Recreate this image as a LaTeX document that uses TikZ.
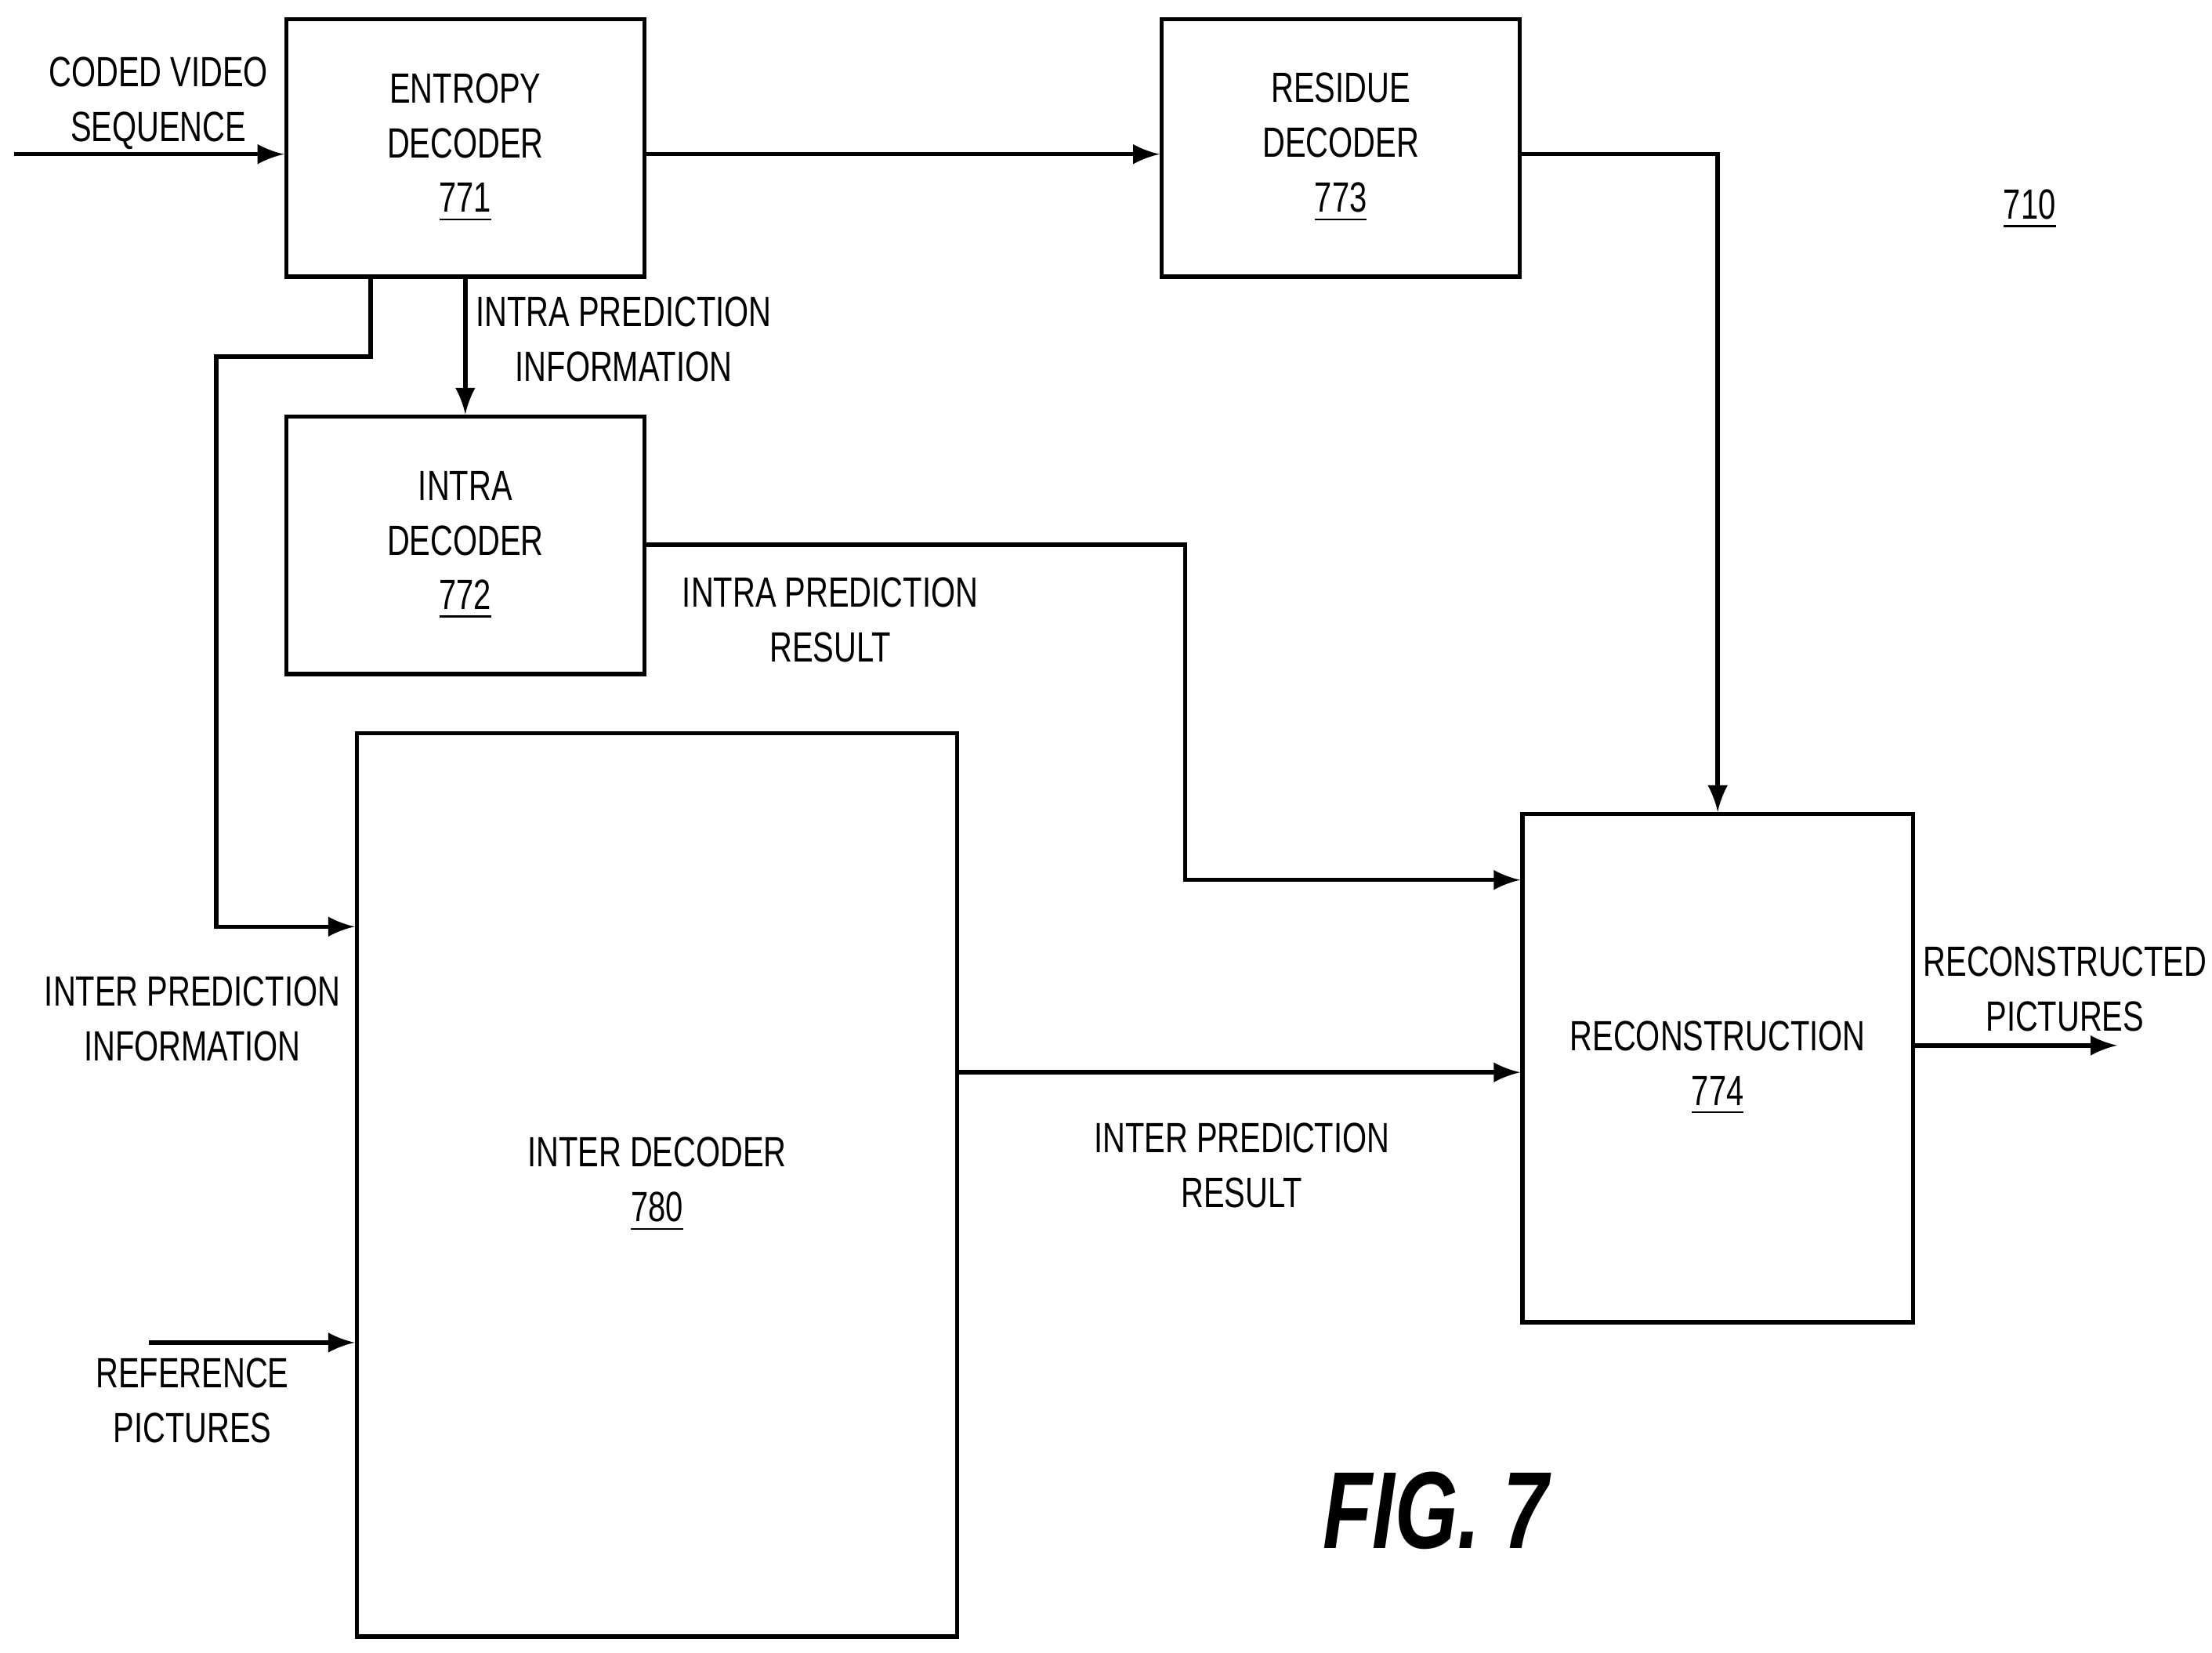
\documentclass[tikz,border=0pt]{standalone}
\usepackage{fontspec}
\setsansfont{Liberation Sans}[FakeStretch=0.74]
\usetikzlibrary{positioning}
\tikzset{every path/.style={line width=0.85pt}}
\tikzset{box/.style={rectangle,draw,align=center,line width=0.85pt}}
\tikzset{lbl/.style={align=center}}
\tikzset{arr/.style={->,>=latex}}
\begin{document}
\begin{tikzpicture}[x=0.01cm,y=-0.01cm,font=\sffamily\fontsize{8.5}{11}\selectfont]
\useasboundingbox (0,0) rectangle (1564,1168);
\node[box,minimum width=2.53cm,minimum height=1.82cm](E) at (329,104.5) {ENTROPY\\DECODER\\\underline{771}};
\node[box,minimum width=2.53cm,minimum height=1.82cm](R) at (948,104.5) {RESIDUE\\DECODER\\\underline{773}};
\node[box,minimum width=2.53cm,minimum height=1.82cm](I) at (329,385.5) {INTRA\\DECODER\\\underline{772}};
\node[box,minimum width=4.24cm,minimum height=6.38cm](N) at (464.5,837.5) {INTER DECODER\\\underline{780}};
\node[box,minimum width=2.76cm,minimum height=3.59cm](C) at (1214.5,755) {RECONSTRUCTION\\\underline{774}};
\coordinate (in) at (10,109);
\coordinate (ref) at (105,949);
\coordinate (out) at (1497,739);
\node[lbl](l1) at (112,73) {CODED VIDEO\\SEQUENCE};
\node[lbl](l2) at (441,240) {INTRA PREDICTION\\INFORMATION};
\node[lbl](l3) at (136,720) {INTER PREDICTION\\INFORMATION};
\node[lbl](l4) at (587,438) {INTRA PREDICTION\\RESULT};
\node[lbl](l5) at (878,824) {INTER PREDICTION\\RESULT};
\node[lbl](l6) at (136,990) {REFERENCE\\PICTURES};
\node[lbl](l7) at (1460,699) {RECONSTRUCTED\\PICTURES};
\node[lbl](l8) at (1435,148) {\underline{710}};
\node[lbl](fig) at (1015,1068) {\fontsize{22}{26}\selectfont\bfseries\itshape FIG. 7};

\draw[arr] (in) -- (E.west|-in);
\draw[arr] (E.east|-in) -- (R.west|-in);
\draw[arr] (E.south) -- (I.north);
\draw[arr] (E.south-|262,0) |- (153,252) |- (N.west|-0,655);
\draw[arr] (I.east|-0,385) -| (838,622) -- (C.west|-0,622);
\draw[arr] (R.east|-0,109) -| (C.north);
\draw[arr] (N.east|-0,758) -- (C.west|-0,758);
\draw[arr] (ref) -- (N.west|-ref);
\draw[arr] (C.east|-out) -- (out);
\end{tikzpicture}
\end{document}
